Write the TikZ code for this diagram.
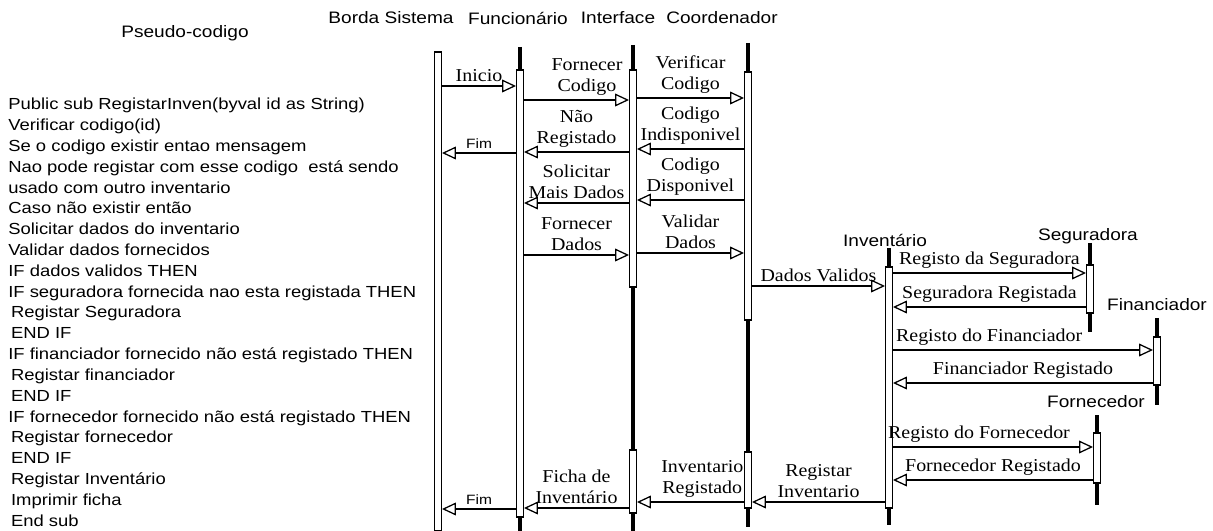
\documentclass[tikz,border=0pt]{standalone}
\usepackage{fontspec}
\setmainfont{Liberation Serif}
\newfontfamily\pcsans[FakeStretch=1.15]{Liberation Sans}
\newfontfamily\pcserif[FakeStretch=1.1]{Liberation Serif}
\usetikzlibrary{arrows.meta,fit,positioning}

\begin{document}
\begin{tikzpicture}[x=0.025cm,y=-0.025cm]

\tikzset{header/.style={font=\pcsans\fontsize{11.8}{14}\selectfont,inner sep=0pt},
code/.style={font=\pcsans\fontsize{11.4}{13}\selectfont,inner sep=0pt,anchor=base west},
lifeline/.style={line width=2.6pt},
actbox/.style={draw,fill=white,line width=0.8pt,inner sep=0pt,minimum width=0.17cm},
msg/.style={line width=0.9pt,-{Triangle[open,length=0.35cm,width=0.32cm]}},
lbl/.style={font=\pcserif\fontsize{12.9}{15}\selectfont,align=center,inner sep=2.5pt,above},
smalllbl/.style={font=\pcsans\fontsize{9.6}{11}\selectfont,inner sep=3pt,above}}

\useasboundingbox (0,0) rectangle (1213,531);

% Headers
\node[header] (pseudo) at (185,33) {Pseudo-codigo};
\node[header] (hborda) at (391,18) {Borda Sistema};
\node[header] (hfunc) at (518,18) {Funcionário};
\node[header] (hintf) at (618,18) {Interface};
\node[header] (hcoord) at (722,18) {Coordenador};
\node[header] (hinv) at (885,240) {Inventário};
\node[header] (hseg) at (1088,236) {Seguradora};
\node[header] (hfin) at (1157,305) {Financiador};
\node[header] (hforn) at (1096,402) {Fornecedor};

% Pseudo-code
\foreach \t [count=\i from 0] in {Public sub RegistarInven(byval id as String), Verificar codigo(id), Se o codigo existir entao mensagem, Nao pode registar com esse codigo \ está sendo, usado com outro inventario, Caso não existir então, Solicitar dados do inventario, Validar dados fornecidos, IF dados validos THEN, IF seguradora fornecida nao esta registada THEN, \hspace*{2pt}Registar Seguradora, \hspace*{2pt}END IF, IF financiador fornecido não está registado THEN, \hspace*{2pt}Registar financiador, \hspace*{2pt}END IF, IF fornecedor fornecido não está registado THEN, \hspace*{2pt}Registar fornecedor, \hspace*{2pt}END IF, \hspace*{2pt}Registar Inventário, \hspace*{2pt}Imprimir ficha, \hspace*{2pt}End sub}
  \node[code] (code\i) at (8,{110+20.8*\i}) {\t};

% Lifelines
\foreach \x/\a/\b in {520/47/531, 633/45/531, 748/43/527, 889/248/525, 1090/243/332, 1157/318/405, 1097/415/505} \draw[lifeline] (\x,\a) -- (\x,\b);

% Activation boxes
\foreach \n/\x/\a/\b in {borda/438/52/531, func/520/70/517, intfA/633/70/287, intfB/633/450/513, coordA/748/72/320, coordB/748/452/508, inv/889/267/508, seg/1090/265/313, fin/1157/337/385, forn/1097/433/483}
  \node[actbox, fit={(\x,\a) (\x,\b)}] (\n) {};

% Message levels
\foreach \n/\y in {m1/86, m2/100, m3/98, m4/149, m5/152, m6/153, m7/200, m8/203, m9/255, m10/253, m11/286, m12/273, m13/307, m14/350, m15/383, m16/447, m17/480, m18/502, m19/502, m20/508, m21/509}
  \coordinate (\n) at (0,\y);

% Messages
\draw[msg] (borda.east |- m1) -- node[lbl] {Inicio} (func.west |- m1);
\draw[msg] (func.east |- m2) -- node[lbl,pos=0.6] {Fornecer\\Codigo} (intfA.west |- m2);
\draw[msg] (intfA.east |- m3) -- node[lbl] {Verificar\\Codigo} (coordA.west |- m3);
\draw[msg] (coordA.west |- m4) -- node[lbl] {Codigo\\Indisponivel} (intfA.east |- m4);
\draw[msg] (intfA.west |- m5) -- node[lbl] {Não\\Registado} (func.east |- m5);
\draw[msg] (func.west |- m6) -- node[smalllbl] {Fim} (borda.east |- m6);
\draw[msg] (coordA.west |- m7) -- node[lbl] {Codigo\\Disponivel} (intfA.east |- m7);
\draw[msg] (intfA.west |- m8) -- node[lbl] {Solicitar\\Mais Dados} (func.east |- m8);
\draw[msg] (func.east |- m9) -- node[lbl] {Fornecer\\Dados} (intfA.west |- m9);
\draw[msg] (intfA.east |- m10) -- node[lbl] {Validar\\Dados} (coordA.west |- m10);
\draw[msg] (coordA.east |- m11) -- node[lbl] {Dados Validos} (inv.west |- m11);
\draw[msg] (inv.east |- m12) -- node[lbl] {Registo da Seguradora} (seg.west |- m12);
\draw[msg] (seg.west |- m13) -- node[lbl] {Seguradora Registada} (inv.east |- m13);
\draw[msg] (inv.east |- m14) -- node[lbl,pos=0.37] {Registo do Financiador} (fin.west |- m14);
\draw[msg] (fin.west |- m15) -- node[lbl] {Financiador Registado} (inv.east |- m15);
\draw[msg] (inv.east |- m16) -- node[lbl,pos=0.43] {Registo do Fornecedor} (forn.west |- m16);
\draw[msg] (forn.west |- m17) -- node[lbl] {Fornecedor Registado} (inv.east |- m17);
\draw[msg] (inv.west |- m18) -- node[lbl] {Registar\\Inventario} (coordB.east |- m18);
\draw[msg] (coordB.west |- m19) -- node[lbl,pos=0.39] {Inventario\\Registado} (intfB.east |- m19);
\draw[msg] (intfB.west |- m20) -- node[lbl] {Ficha de\\Inventário} (func.east |- m20);
\draw[msg] (func.west |- m21) -- node[smalllbl] {Fim} (borda.east |- m21);

\end{tikzpicture}
\end{document}
